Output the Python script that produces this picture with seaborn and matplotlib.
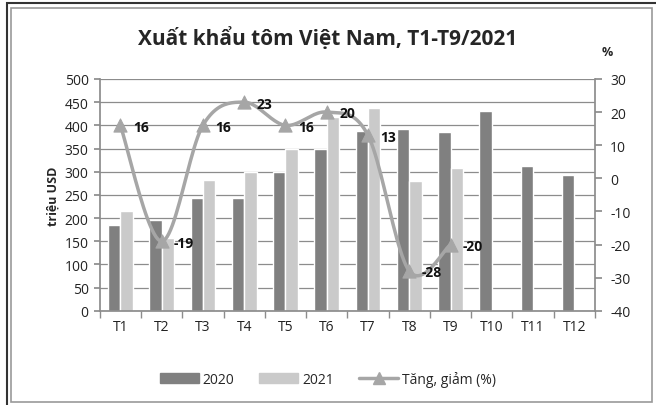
import numpy as np
import pandas as pd
import matplotlib
matplotlib.use("Agg")
import matplotlib.pyplot as plt
import seaborn as sns
from matplotlib.patches import Rectangle, Patch
from matplotlib.lines import Line2D

# data
months = ['T1', 'T2', 'T3', 'T4', 'T5', 'T6', 'T7', 'T8', 'T9', 'T10', 'T11', 'T12']
exp_2020 = [186, 195, 243, 243, 300, 350, 388, 392, 386, 430, 313, 293]
exp_2021 = [216, 158, 282, 300, 350, 418, 438, 279, 308]
growth = [16, -19, 16, 23, 16, 20, 13, -28, -20]

c2020 = '#808080'
c2021 = '#cacaca'
cline = '#a6a6a6'

rows = []
for m, v in zip(months, exp_2020):
    rows.append({'month': m, 'year': '2020', 'value': v})
for m, v in zip(months, exp_2021):
    rows.append({'month': m, 'year': '2021', 'value': v})
df = pd.DataFrame(rows)

sns.set_theme(style="white")
plt.rcParams['font.family'] = ['Open Sans', 'DejaVu Sans']
plt.rcParams['axes.unicode_minus'] = False


def smooth(xs, ys, n=24):
    # catmull-rom curve through the points (like Excel's smoothed line)
    px = [xs[0]] + list(xs) + [xs[-1]]
    py = [ys[0]] + list(ys) + [ys[-1]]
    outx, outy = [], []
    t = np.linspace(0, 1, n)
    for i in range(1, len(px) - 2):
        for p, out in ((px, outx), (py, outy)):
            p0, p1, p2, p3 = p[i - 1], p[i], p[i + 1], p[i + 2]
            out.extend(0.5 * ((2 * p1) + (-p0 + p2) * t
                              + (2 * p0 - 5 * p1 + 4 * p2 - p3) * t ** 2
                              + (-p0 + 3 * p1 - 3 * p2 + p3) * t ** 3))
    return outx, outy


fig = plt.figure(figsize=(6.56, 4.06), dpi=100)
ax = fig.add_axes([0.152, 0.232, 0.755, 0.571])

sns.barplot(data=df, x='month', y='value', hue='year', order=months,
            palette={'2020': c2020, '2021': c2021}, width=0.6,
            saturation=1, legend=False, ax=ax)

ax.set_ylim(0, 500)
ax.set_yticks(range(0, 501, 50))
ax.set_xlim(-0.5, 11.5)
ax.yaxis.grid(True, color='#8c8c8c', linewidth=0.9)
ax.set_axisbelow(True)
ax.set_xlabel('')
ax.set_ylabel('triệu USD', fontsize=9, fontweight='bold', labelpad=4)
ax.tick_params(axis='x', labelsize=10, colors='#222222', length=0, pad=6)
ax.tick_params(axis='y', labelsize=10, labelcolor='#222222', length=4,
               color='#8c8c8c', pad=4, left=True)
ax.set_xticks(np.arange(-0.5, 12, 1), minor=True)
ax.tick_params(axis='x', which='minor', length=5, color='#8c8c8c', direction='out', bottom=True)
for s in ['top', 'right']:
    ax.spines[s].set_visible(False)
for s in ['left', 'bottom']:
    ax.spines[s].set_color('#8c8c8c')

ax2 = ax.twinx()
ax2.set_ylim(-40, 30)
ax2.set_yticks(range(-40, 31, 10))
ax2.tick_params(axis='y', labelsize=10, labelcolor='#222222', length=5,
                color='#8c8c8c', pad=6, right=True)
for s in ['top', 'left', 'bottom']:
    ax2.spines[s].set_visible(False)
ax2.spines['right'].set_color('#8c8c8c')
ax2.grid(False)

gx = np.arange(len(growth))
sx, sy = smooth(gx, growth)
ax2.plot(sx, sy, color=cline, linewidth=2.5, zorder=3)
sns.scatterplot(x=gx, y=growth, marker='^', s=90, color=cline,
                edgecolor=cline, ax=ax2, zorder=4)
for x, y in zip(gx, growth):
    ax2.annotate(str(y), (x, y), xytext=(9, -1), textcoords='offset points',
                 fontsize=10, fontweight='bold', color='#111111', va='center')

fig.text(0.926, 0.863, '%', fontsize=9, fontweight='bold', ha='center')
fig.text(0.5, 0.905, 'Xuất khẩu tôm Việt Nam, T1-T9/2021', fontsize=15,
         fontweight='bold', ha='center', va='center')

handles = [Patch(color=c2020), Patch(color=c2021),
           Line2D([0], [0], color=cline, lw=2.5, marker='^', markersize=8)]
fig.legend(handles, ['2020', '2021', 'Tăng, giảm (%)'], loc='center',
           bbox_to_anchor=(0.5, 0.065), ncol=3, frameon=False, fontsize=10,
           handlelength=2.8, columnspacing=1.8, handletextpad=0.3)

# frame: dark outer line, gray inner line
fig.patches.append(Rectangle((7 / 656, -0.01), 1.0, 1 - 4 / 406 + 0.01,
                             transform=fig.transFigure, fill=False,
                             edgecolor='#333333', linewidth=1.5))
fig.patches.append(Rectangle((11 / 656, 3 / 406), 641 / 656, 394 / 406,
                             transform=fig.transFigure, fill=False,
                             edgecolor='#999999', linewidth=1.2))

fig.savefig('out.png', dpi=100)
